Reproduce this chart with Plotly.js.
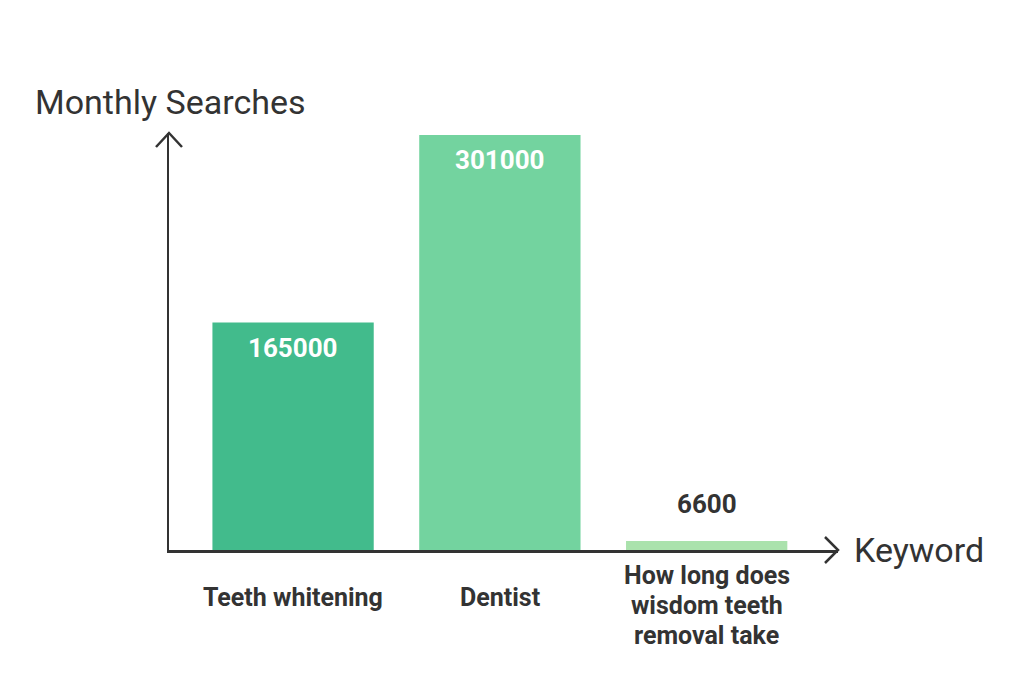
<!DOCTYPE html>
<html>
<head>
<meta charset="utf-8">
<script src="https://cdn.plot.ly/plotly-3.0.1.min.js"></script>
<style>
  html, body { margin: 0; padding: 0; background: #fff; }
  #chart { width: 1024px; height: 683px; }
</style>
</head>
<body>
<div id="chart"></div>
<script>
// chart values
const keywords = ['Teeth whitening', 'Dentist', 'How long does<br>wisdom teeth<br>removal take'];
const searches = [165000, 301000, 6600];
const barColors = ['#42bb8c', '#73d39f', '#aae2ac'];

const axisColor = '#333333';
const textColor = '#333333';
const fontFamily = 'Roboto, "Open Sans", sans-serif';
const xPos = keywords.map((k, i) => i);

const trace = {
   type: 'bar',
   x: xPos,
   y: searches,
   width: 0.78,
   marker: {color: barColors, line: {width: 0}},
   hoverinfo: 'skip'
};

// value labels: inside the bar top when tall, above the bar when short
const valueLabels = searches.map((v, i) => {
   const inside = v > 50000;
   return {
      x: xPos[i], y: v, xref: 'x', yref: 'y',
      text: '<b>' + v + '</b>',
      showarrow: false,
      yanchor: inside ? 'top' : 'bottom',
      yshift: inside ? -8 : 20,
      font: {family: fontFamily, size: 26, color: inside ? '#ffffff' : textColor}
   };
});

// category labels under the axis, one annotation per line so the
// line spacing can be tighter than plotly's 1.3em
const categoryLabels = [];
keywords.forEach((k, i) => {
   const lines = k.split('<br>');
   const first = lines.length > 1 ? -25 : -47;
   lines.forEach((line, j) => {
      categoryLabels.push({
         x: xPos[i], y: 0, xref: 'x', yref: 'y',
         text: '<b>' + line + '</b>',
         showarrow: false,
         yanchor: 'middle',
         yshift: first - j * 30,
         font: {family: fontFamily, size: 25, color: textColor}
      });
   });
});

const axisTitles = [
   {
      x: 0, y: 1, xref: 'paper', yref: 'paper',
      text: 'Monthly Searches', showarrow: false,
      xanchor: 'left', yanchor: 'middle', xshift: 33 - 169, yshift: 31,
      font: {family: fontFamily, size: 34, color: textColor}
   },
   {
      x: 1, y: 0, xref: 'paper', yref: 'paper',
      text: 'Keyword', showarrow: false,
      xanchor: 'left', yanchor: 'middle', xshift: 14,
      font: {family: fontFamily, size: 34, color: textColor}
   }
];

const arrowHeads = [
   {  // up arrow on the y axis
      type: 'path', xref: 'paper', yref: 'paper',
      xsizemode: 'pixel', ysizemode: 'pixel', xanchor: 0, yanchor: 1,
      path: 'M -13 -14 L 0 0 L 13 -14',
      line: {color: axisColor, width: 2.5}
   },
   {  // right arrow on the x axis
      type: 'path', xref: 'paper', yref: 'paper',
      xsizemode: 'pixel', ysizemode: 'pixel', xanchor: 1, yanchor: 0,
      path: 'M -13 13 L 0 0 L -13 -13',
      line: {color: axisColor, width: 2.5}
   }
];

const layout = {
   width: 1024,
   height: 683,
   margin: {l: 169, r: 186, t: 133, b: 133, pad: 0},
   paper_bgcolor: '#ffffff',
   plot_bgcolor: '#ffffff',
   showlegend: false,
   xaxis: {
      range: [-0.6, 2.635],
      showline: true, linecolor: axisColor, linewidth: 2.5,
      showgrid: false, zeroline: false, showticklabels: false, ticks: '',
      fixedrange: true
   },
   yaxis: {
      range: [0, 302500],
      showline: true, linecolor: axisColor, linewidth: 2.5,
      showgrid: false, zeroline: false, showticklabels: false, ticks: '',
      fixedrange: true
   },
   annotations: valueLabels.concat(categoryLabels, axisTitles),
   shapes: arrowHeads
};

Plotly.newPlot('chart', [trace], layout, {displayModeBar: false, staticPlot: true});
</script>
</body>
</html>
